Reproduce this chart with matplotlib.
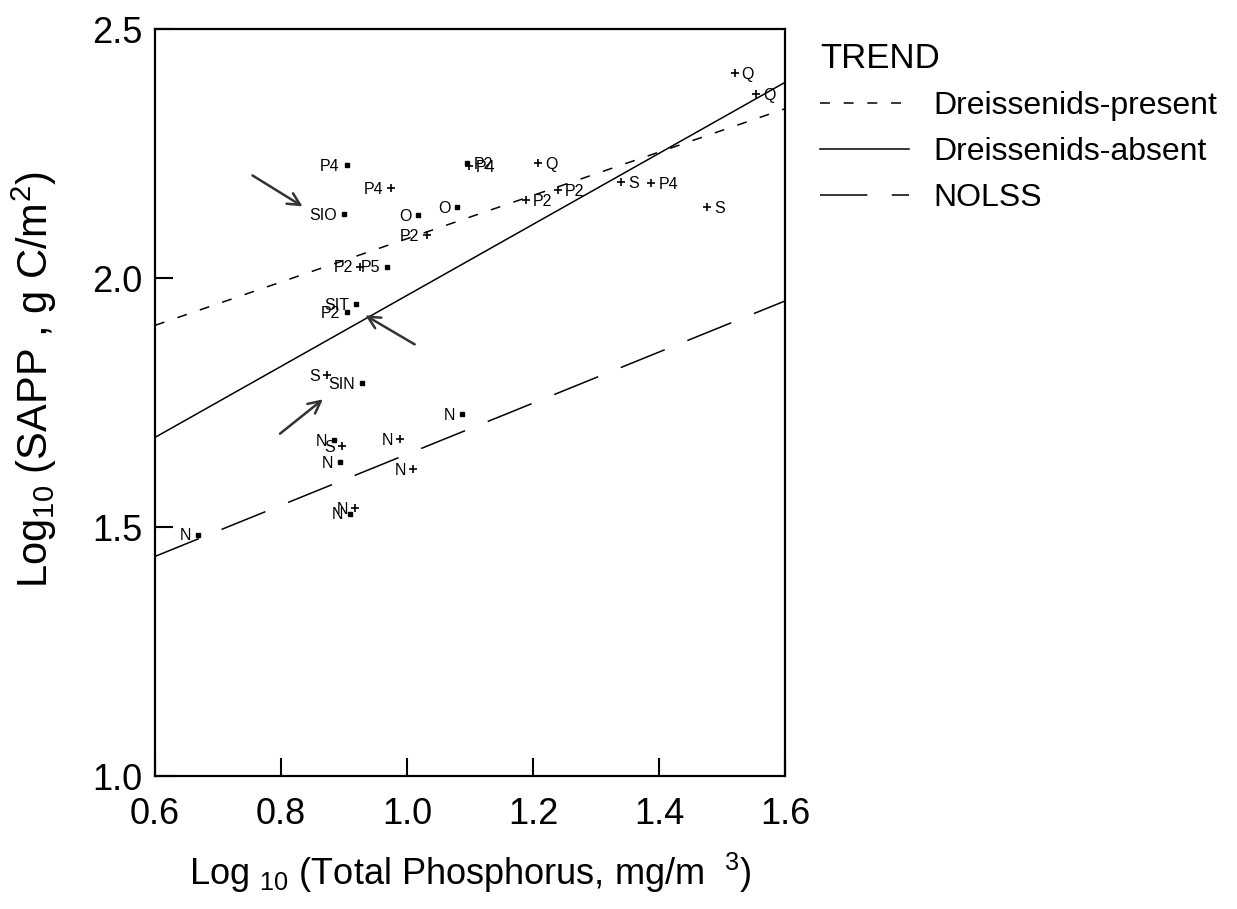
import matplotlib
matplotlib.use("Agg")
import matplotlib.pyplot as plt
import numpy as np

plt.rcParams['font.family'] = ['Liberation Sans', 'DejaVu Sans']
plt.rcParams['mathtext.default'] = 'regular'

# site observations: log10 TP (x), log10 SAPP (y), label, marker kind
site_labels = ['P4', 'P4', 'SIO', 'O', 'O', 'P2', 'P2', 'P5', 'P2', 'P4',
               'Q', 'P2', 'P2', 'S', 'P4', 'S', 'Q', 'Q',
               'SIT', 'P2', 'S', 'SIN',
               'N', 'S', 'N', 'N', 'N', 'N', 'N', 'N', 'N']
log_tp = [0.904, 0.974, 0.900, 1.018, 1.080, 1.031, 0.925, 0.969, 1.095, 1.098,
          1.208, 1.239, 1.189, 1.340, 1.388, 1.476, 1.520, 1.554,
          0.919, 0.905, 0.873, 0.928,
          0.884, 0.897, 0.894, 0.989, 1.010, 1.087, 0.910, 0.917, 0.669]
log_sapp = [2.227, 2.180, 2.128, 2.127, 2.143, 2.087, 2.023, 2.023, 2.231, 2.225,
            2.231, 2.176, 2.156, 2.192, 2.190, 2.142, 2.412, 2.370,
            1.948, 1.931, 1.805, 1.789,
            1.674, 1.662, 1.630, 1.677, 1.616, 1.727, 1.527, 1.539, 1.485]
marker_kind = ['s', '+', 's', 's', 's', '+', '+', 's', 's', '+',
               '+', '+', '+', '+', '+', '+', '+', '+',
               's', 's', '+', 's',
               's', '+', 's', '+', '+', 's', 's', '+', 's']

# fitted trend lines (end points at x = 0.6 and 1.6)
trend_x = [0.6, 1.6]
present_y = [1.905, 2.340]
absent_y = [1.680, 2.393]
nolss_y = [1.441, 1.954]

# arrows: (tail x, tail y, head x, head y)
arrows = [(0.751, 2.209, 0.838, 2.141),
          (1.016, 1.864, 0.930, 1.928),
          (0.795, 1.684, 0.870, 1.760)]

fig = plt.figure(figsize=(12.37, 9.09), dpi=100)
ax = fig.add_axes([0.1253, 0.1463, 0.5093, 0.8217])

l1, = ax.plot(trend_x, present_y, color='black', lw=1.1, dashes=(6.5, 9))
l2, = ax.plot(trend_x, absent_y, color='black', lw=1.1)
l3, = ax.plot(trend_x, nolss_y, color='black', lw=1.1, dashes=(31, 16))

tp = np.array(log_tp)
sapp = np.array(log_sapp)
kind = np.array(marker_kind)
plus = kind == '+'
ax.plot(tp[plus], sapp[plus], '+', color='black', ms=6, mew=1.2, ls='none')
ax.plot(tp[~plus], sapp[~plus], 's', color='black', ms=3, ls='none')

# labels sit left of the marker on the left part, right of it further on
for lab, x, y in zip(site_labels, log_tp, log_sapp):
    if x < 1.09:
        ax.annotate(lab, (x, y), xytext=(-5, -1), textcoords='offset points',
                    ha='right', va='center', fontsize=11.5)
    else:
        ax.annotate(lab, (x, y), xytext=(5, -1), textcoords='offset points',
                    ha='left', va='center', fontsize=11.5)

for x0, y0, x1, y1 in arrows:
    ax.annotate('', xy=(x1, y1), xytext=(x0, y0),
                arrowprops=dict(arrowstyle='->', color='#333333', lw=1.8,
                                mutation_scale=22))

ax.set_xlim(0.6, 1.6)
ax.set_ylim(1.0, 2.5)
ax.set_xticks(np.arange(0.6, 1.61, 0.2))
ax.set_yticks([1.0, 1.5, 2.0, 2.5])
ax.xaxis.set_major_formatter(matplotlib.ticker.FormatStrFormatter('%.1f'))
ax.yaxis.set_major_formatter(matplotlib.ticker.FormatStrFormatter('%.1f'))
ax.tick_params(direction='in', length=13, width=1.5, labelsize=26)
ax.tick_params(axis='x', pad=15)
ax.tick_params(axis='y', pad=9)
for sp in ax.spines.values():
    sp.set_linewidth(1.6)

ax.set_xlabel('Log $_{10}$ (Total Phosphorus, mg/m  $^{3}$)', fontsize=26, labelpad=14)
ax.set_ylabel('Log$_{10}$ (SAPP , g C/m$^{2}$)', fontsize=30)
ax.yaxis.set_label_coords(-0.152, 0.53)

fig.legend([l1, l2, l3], ['Dreissenids-present', 'Dreissenids-absent', 'NOLSS'],
           title='TREND', title_fontsize=25, fontsize=23, frameon=False,
           loc='upper left', bbox_to_anchor=(804 / 1237, 1 - 26 / 909),
           borderpad=0, handlelength=2.8, handletextpad=0.75,
           labelspacing=0.5, alignment='left')

fig.savefig('out.png', dpi=100)
